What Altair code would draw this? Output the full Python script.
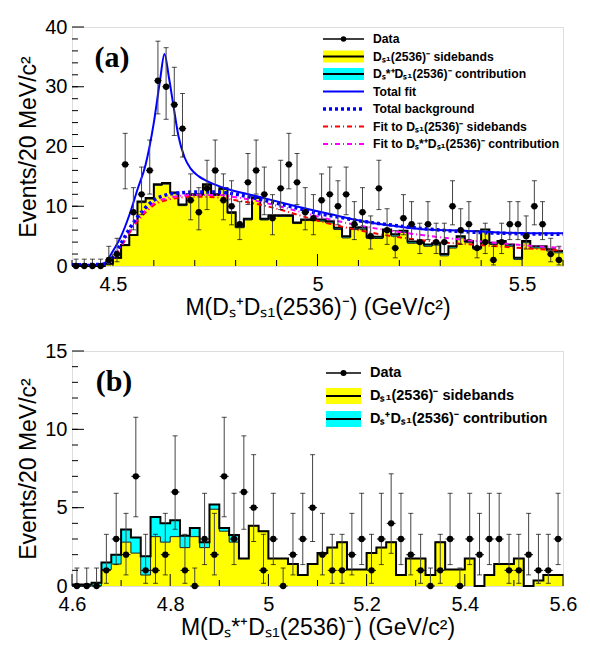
import math
import altair as alt
import pandas as pd

# ---------------- panel (a) ----------------
A_LO, A_HI, A_BW = 4.4, 5.6, 0.02
a_counts = [0, 0, 0, 0, 1, 2, 17, 9, 12, 16, 31, 30, 27, 23, 11, 9, 13, 16, 11, 10,
            7, 14, 16, 12, 8, 13, 17, 14, 9, 8, 11, 12, 10, 12, 7, 9, 5, 13, 6, 3,
            8, 7, 4, 7, 4, 4, 10, 6, 7, 3, 4, 1, 4, 7, 7, 5, 10, 7, 2, 1]
a_total = [0, 0, 0, 0, 0.4, 1.4, 3.5, 5.2, 10.8, 11.4, 13.7, 13.9, 12.3, 10.3, 12.0, 12.0,
           13.7, 12.0, 13.0, 9.0, 6.6, 7.9, 11.5, 7.9, 8.5, 8.5, 8.5, 7.3, 7.8, 7.8,
           7.8, 7.5, 6.4, 5.0, 6.4, 6.5, 4.9, 4.9, 6.1, 5.3, 5.9, 4.1, 4.1, 3.6, 3.8,
           2.0, 3.3, 5.0, 4.2, 3.1, 6.1, 3.9, 4.2, 3.6, 1.4, 4.2, 3.3, 3.3, 2.8, 2.5]
a_contrib = [0, 0, 0, 0, 0.1, 0.1, 0.1, 0.1, 0.2, 0.2, 0.2, 0.2, 0.2, 0.2, 0.2, 0.2,
             0.2, 0.2, 0.2, 0.2, 0.2, 0.2, 0.2, 0.2, 0.2, 0.2, 0.2, 0.2, 0.2, 0.2,
             0.3, 0.3, 0.3, 0.3, 0.3, 0.3, 0.3, 0.3, 0.3, 0.3, 0.3, 0.3, 0.3, 0.3, 0.3,
             0.3, 0.3, 0.3, 0.3, 0.3, 0.3, 0.3, 0.3, 0.3, 0.3, 0.3, 0.3, 0.3, 0.3, 0.3]

fit_total_x = [4.40, 4.47, 4.48, 4.50, 4.52, 4.54, 4.56, 4.58, 4.60, 4.615, 4.626, 4.637,
               4.648, 4.66, 4.675, 4.69, 4.71, 4.73, 4.77, 4.85, 4.93, 5.03, 5.11, 5.19,
               5.27, 5.36, 5.44, 5.52, 5.60]
fit_total_y = [0.2, 0.2, 0.5, 2.5, 5.0, 8.5, 12.8, 17.0, 24.0, 31.0, 35.5, 31.5,
               26.8, 21.8, 18.2, 16.3, 15.0, 14.2, 13.1, 11.7, 10.3, 8.7, 7.5, 6.7,
               6.1, 5.9, 5.6, 5.5, 5.5]
fit_bkg_x = [4.40, 4.48, 4.50, 4.52, 4.54, 4.56, 4.58, 4.60, 4.63, 4.66, 4.70, 4.75,
             4.80, 4.85, 4.90, 4.95, 5.00, 5.05, 5.10, 5.20, 5.30, 5.40, 5.50, 5.60]
fit_bkg_y = [0.2, 0.3, 1.5, 3.8, 6.2, 8.2, 9.8, 11.0, 11.9, 12.2, 12.4, 12.4,
             12.0, 11.3, 10.5, 9.7, 8.8, 8.2, 7.6, 6.7, 6.0, 5.6, 5.4, 5.3]
fit_side_x = [4.40, 4.48, 4.50, 4.52, 4.54, 4.56, 4.58, 4.60, 4.63, 4.66, 4.70, 4.75,
              4.80, 4.85, 4.90, 4.95, 5.00, 5.10, 5.20, 5.30, 5.40, 5.50, 5.60]
fit_side_y = [0.0, 0.2, 1.2, 3.2, 5.5, 7.5, 9.0, 10.2, 11.0, 11.4, 11.6, 11.5,
              11.0, 10.4, 9.6, 8.6, 7.6, 6.0, 4.8, 4.0, 3.5, 3.0, 2.6]
fit_contr_x = fit_side_x
fit_contr_y = [0.0, 0.2, 1.3, 3.4, 5.8, 7.8, 9.3, 10.5, 11.3, 11.7, 11.9, 11.9,
               11.5, 10.9, 10.1, 9.2, 8.3, 6.8, 5.7, 4.8, 4.1, 3.5, 3.0]

# ---------------- panel (b) ----------------
B_LO, B_HI, B_BW = 4.6, 5.6, 0.02
b_counts = [0, 0, 0, 1, 3, 2, 7, 1, 1, 2, 6, 1, 0, 3, 2, 7, 3, 6, 5, 1,
            3, 0, 2, 3, 5, 2, 1, 1, 2, 3, 1, 3, 4, 3, 2, 1, 0, 1, 3, 0,
            3, 2, 3, 3, 1, 1, 2, 1, 1, 3]
b_side = [0, 0, 0, 1.05, 1.4, 2.8, 2.1, 0.7, 3.15, 2.8, 3.15, 2.45, 3.15, 2.45, 4.9, 3.5,
          2.8, 1.75, 3.85, 3.5, 1.75, 1.75, 1.4, 0.7, 1.4, 2.1, 2.45, 2.8, 1.05, 1.05,
          2.1, 2.45, 2.8, 0.7, 1.75, 1.75, 0.7, 2.8, 1.05, 1.05, 1.75, 0, 0.7, 1.4, 1.4,
          1.75, 0, 0.35, 0.7, 0.7]
b_contrib = [0.1, 0.1, 0.2, 0.45, 0.6, 0.8, 1.0, 1.2, 1.25, 1.2, 1.05, 0.75, 0.55, 0.35,
             0.3, 0.2, 0.45] + [0] * 33

legend_a = ["Data", "Dₛ₁(2536)⁻ sidebands", "Dₛ*⁺Dₛ₁(2536)⁻ contribution", "Total fit",
            "Total background", "Fit to Dₛ₁(2536)⁻ sidebands",
            "Fit to Dₛ*⁺Dₛ₁(2536)⁻ contribution"]
legend_b = ["Data", "Dₛ₁(2536)⁻ sidebands", "Dₛ⁺Dₛ₁(2536)⁻ contribution"]

W, HA, HB = 491, 239, 235
FONT = "Liberation Sans"
NARROW = "Liberation Sans Narrow, Liberation Sans"
YEL, CYA, BLU, RED, MAG = "#ffff00", "#00ffff", "#0000ff", "#ff0000", "#ff00ff"


def pois_cdf(k, mu):
    term = math.exp(-mu)
    s = term
    for i in range(1, k + 1):
        term *= mu / i
        s += term
    return s


def solve_dec(f, target, lo, hi):
    for _ in range(80):
        mid = 0.5 * (lo + hi)
        if f(mid) > target:
            lo = mid
        else:
            hi = mid
    return 0.5 * (lo + hi)


def poisson_band(n):
    a = 0.158655
    if n == 0:
        return 0.0, -math.log(2 * a)
    up = solve_dec(lambda m: pois_cdf(n, m), a, 0.0, n + 40.0)
    low = solve_dec(lambda m: pois_cdf(n - 1, m), 1 - a, 0.0, n + 40.0)
    return low, up


def hist_df(lo, bw, side, contrib):
    n = len(side)
    edges = [lo + bw * i for i in range(n + 1)]
    s = list(side) + [side[-1]]
    c = list(contrib) + [contrib[-1]]
    return pd.DataFrame({"x": edges, "side": s, "total": [a + b for a, b in zip(s, c)]})


def points_df(lo, bw, counts):
    rows = []
    for i, n in enumerate(counts):
        l, u = poisson_band(n)
        xc = lo + bw * (i + 0.5)
        rows.append({"x": xc, "n": n, "lo": l, "hi": u,
                     "xl": xc - 0.45 * bw, "xr": xc + 0.45 * bw})
    return pd.DataFrame(rows)


one = pd.DataFrame({"d": [0]})


def vrule(x1, x2, y, color, width, dash=None):
    kw = dict(color=color, strokeWidth=width)
    if dash:
        kw["strokeDash"] = dash
    return alt.Chart(one).mark_rule(**kw).encode(
        x=alt.value(x1), x2=alt.value(x2), y=alt.value(y))


def vbox(x1, x2, y, h, fill):
    return alt.Chart(one).mark_rect(fill=fill).encode(
        x=alt.value(x1), x2=alt.value(x2), y=alt.value(y - h / 2), y2=alt.value(y + h / 2))


def vtext(x, y, txt, size, font=NARROW, weight="bold", align="left"):
    return alt.Chart(one).mark_text(
        text=txt, font=font, fontSize=size, fontWeight=weight, align=align,
        baseline="middle", color="black").encode(x=alt.value(x), y=alt.value(y))


def panel(lo, hi, bw, H, ymax, counts, side, contrib, xvals, ymajor, yminor, xminor,
          xtitle, label, legend_layers, curves):
    xs = alt.Scale(domain=[lo, hi], nice=False, zero=False)
    ys = alt.Scale(domain=[0, ymax], nice=False, zero=True)
    xaxis = alt.Axis(values=xvals, format="~g", labelFontSize=20, labelFont=FONT,
                     labelColor="black", tickSize=0, ticks=False, domain=False, grid=False,
                     labelPadding=8, labelFlush=False, title=xtitle, titleFont=FONT,
                     titleFontSize=23, titleFontWeight="normal", titleColor="black",
                     titlePadding=2)
    yaxis = alt.Axis(values=ymajor, labelFontSize=20, labelFont=FONT, labelColor="black",
                     tickSize=0, ticks=False, domain=False, grid=False, labelPadding=5,
                     title="Events/20 MeV/c²", titleFont=FONT, titleFontSize=23,
                     titleFontWeight="normal", titleColor="black", titlePadding=4)

    def X(f):
        return alt.X(f, scale=xs, axis=xaxis)

    def Y(f):
        return alt.Y(f, scale=ys, axis=yaxis)

    hdf = hist_df(lo, bw, side, contrib)
    pdf = points_df(lo, bw, counts)
    layers = [
        alt.Chart(hdf).mark_area(interpolate="step-after", color=YEL, opacity=1).encode(
            x=X("x:Q"), y=Y("side:Q")),
        alt.Chart(hdf).mark_area(interpolate="step-after", color=CYA, opacity=1).encode(
            x=X("x:Q"), y=Y("side:Q"), y2="total:Q"),
        alt.Chart(hdf).mark_line(interpolate="step-after", color="#222", strokeWidth=1).encode(
            x=X("x:Q"), y=Y("side:Q")),
        alt.Chart(hdf).mark_line(interpolate="step-after", color="black", strokeWidth=2).encode(
            x=X("x:Q"), y=Y("total:Q")),
    ]
    for cx, cy, color, width, dash in curves:
        kw = dict(interpolate="monotone", color=color, strokeWidth=width, clip=True)
        if dash:
            kw["strokeDash"] = dash
        layers.append(alt.Chart(pd.DataFrame({"x": cx, "y": cy})).mark_line(**kw).encode(
            x=X("x:Q"), y=Y("y:Q")))
    layers += [
        alt.Chart(pdf).mark_rule(color="#444", strokeWidth=1).encode(
            x=X("x:Q"), y=Y("lo:Q"), y2="hi:Q"),
        alt.Chart(pdf).mark_rule(color="black", strokeWidth=1).encode(
            x=X("xl:Q"), x2="xr:Q", y=Y("n:Q")),
        alt.Chart(pdf).mark_tick(color="black", orient="horizontal", size=5, thickness=1).encode(
            x=X("x:Q"), y=Y("hi:Q")),
        alt.Chart(pdf).mark_tick(color="black", orient="horizontal", size=5, thickness=1).encode(
            x=X("x:Q"), y=Y("lo:Q")),
        alt.Chart(pdf).mark_circle(color="black", size=40, opacity=1).encode(
            x=X("x:Q"), y=Y("n:Q")),
    ]
    # inward ticks (ROOT style)
    for vals, ln in ((xvals, 12), (xminor, 6)):
        layers.append(alt.Chart(pd.DataFrame({"x": vals})).mark_rule(color="black").encode(
            x=X("x:Q"), y=alt.value(H), y2=alt.value(H - ln)))
    for vals, ln in ((ymajor, 12), (yminor, 6)):
        layers.append(alt.Chart(pd.DataFrame({"y": vals})).mark_rule(color="black").encode(
            y=Y("y:Q"), x=alt.value(0), x2=alt.value(ln)))
    layers += legend_layers
    layers.append(vtext(label[1], label[2], label[0], 30, font="Liberation Serif",
                        align="center"))
    return alt.layer(*layers).properties(width=W, height=H)


# legend (a)
la = []
ra = [12, 29.5, 47, 64.5, 82, 99.5, 117]
X1, X2, XT = 251, 292, 301
la += [vrule(X1, X2, ra[0], "black", 1.5),
       alt.Chart(one).mark_circle(color="black", size=30, opacity=1).encode(
           x=alt.value((X1 + X2) / 2), y=alt.value(ra[0]))]
la += [vbox(X1, X2, ra[1], 12, YEL), vrule(X1, X2, ra[1], "black", 2)]
la += [vbox(X1, X2, ra[2], 12, CYA), vrule(X1, X2, ra[2], "black", 2)]
la += [vrule(X1, X2, ra[3], BLU, 2)]
la += [vrule(X1, X2, ra[4], BLU, 3.5, [3, 3])]
la += [vrule(X1, X2, ra[5], RED, 2, [5, 3, 1, 3])]
la += [vrule(X1, X2, ra[6], MAG, 2, [5, 3, 1, 3])]
la += [vtext(XT, r, t, 12.2) for r, t in zip(ra, legend_a)]

# legend (b)
lb = []
rb = [22, 45, 68]
Y1, Y2, YT = 254, 289, 298
lb += [vrule(Y1, Y2, rb[0], "black", 1.5),
       alt.Chart(one).mark_circle(color="black", size=36, opacity=1).encode(
           x=alt.value((Y1 + Y2) / 2), y=alt.value(rb[0]))]
lb += [vbox(Y1, Y2, rb[1], 16, YEL), vrule(Y1, Y2, rb[1], "black", 2)]
lb += [vbox(Y1, Y2, rb[2], 16, CYA), vrule(Y1, Y2, rb[2], "black", 2)]
lb += [vtext(YT, r, t, 14.5) for r, t in zip(rb, legend_b)]

curves_a = [
    (fit_side_x, fit_side_y, RED, 2, [5, 3, 1, 3]),
    (fit_contr_x, fit_contr_y, MAG, 2, [5, 3, 1, 3]),
    (fit_bkg_x, fit_bkg_y, BLU, 3.5, [3, 3]),
    (fit_total_x, fit_total_y, BLU, 2, None),
]

top = panel(A_LO, A_HI, A_BW, HA, 40, a_counts,
            [t - c for t, c in zip(a_total, a_contrib)], a_contrib,
            [4.5, 5, 5.5], [0, 10, 20, 30, 40], list(range(2, 40, 2)),
            [4.4, 4.6, 4.7, 4.8, 4.9, 5.1, 5.2, 5.3, 5.4, 5.6],
            "M(Dₛ⁺Dₛ₁(2536)⁻) (GeV/c²)", ("(a)", 40, 31), la, curves_a)

bottom = panel(B_LO, B_HI, B_BW, HB, 15, b_counts, b_side, b_contrib,
               [4.6, 4.8, 5, 5.2, 5.4, 5.6], [0, 5, 10, 15], list(range(1, 15)),
               [4.7, 4.9, 5.1, 5.3, 5.5],
               "M(Dₛ*⁺Dₛ₁(2536)⁻) (GeV/c²)", ("(b)", 42, 31), lb, [])

chart = alt.vconcat(top, bottom, spacing=85, bounds="flush").properties(
    padding={"left": 9, "top": 8, "right": 0, "bottom": 0}
).configure_view(stroke="black", strokeWidth=1).configure(background="white")

chart.save("out.html", embed_options={"renderer": "svg", "actions": False})
